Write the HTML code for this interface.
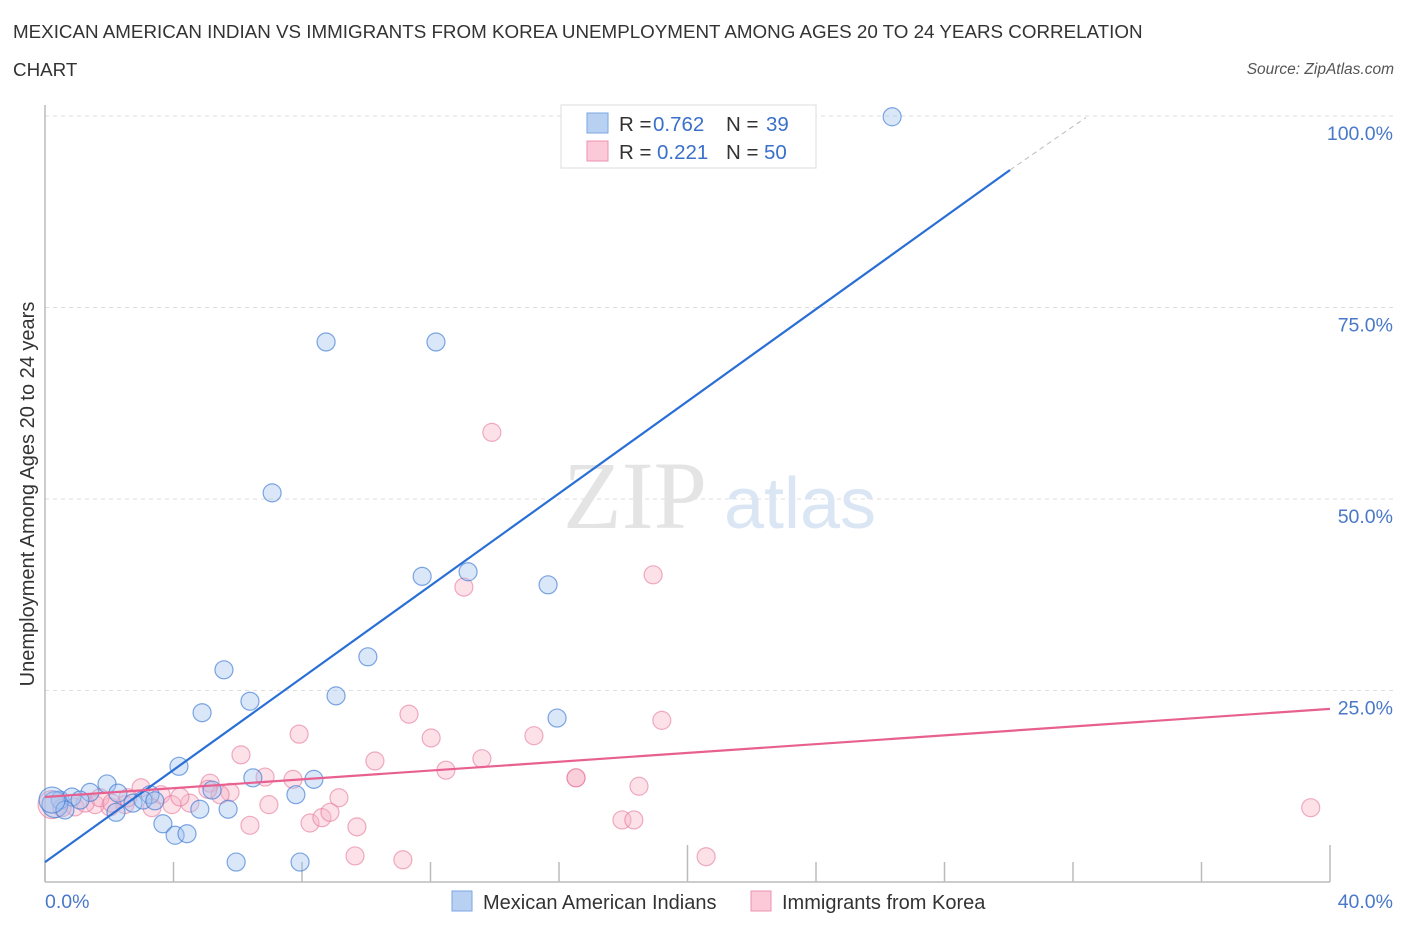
<!DOCTYPE html>
<html><head><meta charset="utf-8"><style>
body{margin:0;background:#fff;font-family:"Liberation Sans",sans-serif;}
#wrap{position:relative;width:1406px;height:930px;overflow:hidden;}
.t{position:absolute;white-space:nowrap;}
</style></head><body>
<div id="wrap">
<div class="t" style="left:13px;top:21px;font-size:18.8px;color:#333;">MEXICAN AMERICAN INDIAN VS IMMIGRANTS FROM KOREA UNEMPLOYMENT AMONG AGES 20 TO 24 YEARS CORRELATION</div>
<div class="t" style="left:13px;top:59px;font-size:18.8px;color:#333;">CHART</div>
<div class="t" style="right:12px;top:61px;font-size:15.5px;color:#555;font-style:italic;">Source: ZipAtlas.com</div>
<svg id="svg" width="1406" height="930" style="position:absolute;left:0;top:0"></svg>
</div>
<script>
const xTicks=[0,4,8,12,16,20,24,28,32,36,40];
const yTicks=[25,50,75,100];
const yTickLabels=["25.0%","50.0%","75.0%","100.0%"];
const blueX=[26.37,8.75,12.17,7.07,11.74,13.17,15.66,10.05,5.57,6.38,9.06,4.89,15.94,4.17,6.47,8.37,1.93,7.81,1.40,2.27,3.27,0.47,0.84,1.09,5.2,4.82,5.7,2.21,2.74,3.05,3.42,3.67,4.05,4.42,5.95,7.94,0.31,0.62,0.22];
const blueY=[99.9,70.5,70.5,50.8,39.9,40.5,38.8,29.4,27.7,23.6,24.3,22.1,21.4,15.1,13.6,13.4,12.8,11.4,11.7,11.6,11.4,10.7,11.1,10.7,12.0,9.5,9.5,9.1,10.3,10.7,10.6,7.6,6.1,6.3,2.6,2.6,10.1,9.4,10.7];
const pinkX=[13.91,18.93,13.04,11.33,19.2,7.91,15.22,12.02,6.1,10.27,13.6,16.53,16.53,12.48,18.49,6.85,7.72,5.14,5.76,2.99,3.61,5.45,9.15,4.51,3.95,6.97,6.38,8.25,8.62,8.87,9.71,9.65,11.14,17.96,18.33,20.58,39.4,2.02,2.49,1.56,0.93,0.22,0.53,1.25,1.71,2.08,2.58,4.2,5.07,3.33];
const pinkY=[58.7,40.1,38.5,21.9,21.1,19.3,19.1,18.8,16.6,15.8,16.1,13.6,13.6,14.6,12.5,13.7,13.4,12.9,11.7,12.3,11.4,11.4,11.0,10.3,10.1,10.1,7.4,7.7,8.4,9.1,7.2,3.4,2.9,8.1,8.1,3.3,9.7,9.8,10.1,10.1,9.8,10.1,9.7,10.3,11.0,10.3,11.0,11.1,12.1,9.7];
const blueLine=[[0,2.6],[30.04,92.95]];
const blueDash=[[30.04,92.95],[32.4,99.8]];
const pinkLine=[[0,11.1],[40,22.6]];

const NS="http://www.w3.org/2000/svg";
const svg=document.getElementById('svg');
const X0=45,X1=1330,Y0=882,Y100=116;
const sx=v=>X0+(X1-X0)*v/40;
const sy=v=>Y0-(Y0-Y100)*v/100;
function el(tag,attrs){const e=document.createElementNS(NS,tag);for(const k in attrs)e.setAttribute(k,attrs[k]);svg.appendChild(e);return e;}
function txt(s,attrs){const e=el('text',attrs);e.textContent=s;return e;}

yTicks.forEach((v,i)=>{
 const g=el('line',{x1:X0,x2:1395,y1:sy(v),y2:sy(v),stroke:'#ddd','stroke-dasharray':'4,4'});
 
 
 const t=txt(yTickLabels[i],{x:1393,y:sy(v)+24,'text-anchor':'end','font-size':19.5,fill:'#4a78c8','font-family':'Liberation Sans, sans-serif'});
 
 
});
const ax=el('line',{x1:X0,x2:X0,y1:105,y2:Y0,stroke:'#bbb','stroke-width':1.5});


const bx=el('line',{x1:X0,x2:X1,y1:Y0,y2:Y0,stroke:'#bbb','stroke-width':1.5});


xTicks.forEach((v,i)=>{
 const big=(v===20||v===40);
 const tk=el('line',{x1:sx(v),x2:sx(v),y1:big?845:862,y2:Y0,stroke:'#bbb','stroke-width':1.5});
 
 
});
const xl0=txt('0.0%',{x:45,y:908,'font-size':19.5,fill:'#4a78c8','font-family':'Liberation Sans, sans-serif'});


const xl1=txt('40.0%',{x:1393,y:908,'text-anchor':'end','font-size':19.5,fill:'#4a78c8','font-family':'Liberation Sans, sans-serif'});


const yt=txt('Unemployment Among Ages 20 to 24 years',{x:0,y:0,transform:'translate(34,494) rotate(-90)','text-anchor':'middle','font-size':20,fill:'#333','font-family':'Liberation Sans, sans-serif'});


// watermark
const w1=txt('ZIP',{x:635,y:528,'text-anchor':'middle','font-size':96,fill:'#e4e4e4','font-family':'Liberation Serif, serif'});


const w2=txt('atlas',{x:800,y:528,'text-anchor':'middle','font-size':72,fill:'#dbe6f5','font-family':'Liberation Sans, sans-serif'});



pinkX.forEach((x,i)=>{
 const c=el('circle',{cx:sx(x),cy:sy(pinkY[i]),r:(x<0.3?14:9),fill:'rgba(248,180,200,0.4)',stroke:'rgba(230,120,155,0.6)','stroke-width':1.2});
 
 
});
blueX.forEach((x,i)=>{
 const c=el('circle',{cx:sx(x),cy:sy(blueY[i]),r:(x<0.35?13:9),fill:'rgba(160,195,240,0.4)',stroke:'rgba(60,120,210,0.65)','stroke-width':1.2});
 
 
});
const bl=el('line',{x1:sx(blueLine[0][0]),y1:sy(blueLine[0][1]),x2:sx(blueLine[1][0]),y2:sy(blueLine[1][1]),stroke:'#2a6fd6','stroke-width':2.2});


const bd=el('line',{x1:sx(blueDash[0][0]),y1:sy(blueDash[0][1]),x2:sx(blueDash[1][0]),y2:sy(blueDash[1][1]),stroke:'#bbb','stroke-width':1,'stroke-dasharray':'5,4'});


const pl=el('line',{x1:sx(pinkLine[0][0]),y1:sy(pinkLine[0][1]),x2:sx(pinkLine[1][0]),y2:sy(pinkLine[1][1]),stroke:'#e8608f','stroke-width':2.2});



// top legend
const lb=el('rect',{x:561,y:105,width:255,height:63,fill:'#fff',stroke:'#ddd'});


const s1=el('rect',{x:587,y:113,width:21,height:20,fill:'#b8d1f3',stroke:'#7aa6e0'});


const s2=el('rect',{x:587,y:141,width:21,height:20,fill:'#fbc9d7',stroke:'#eb93b0'});


function rich(y,parts,name){const t=el('text',{x:619,y:y,'font-size':20.5,'font-family':'Liberation Sans, sans-serif'});
 
 
 parts.forEach(p=>{const s=document.createElementNS(NS,'tspan');s.setAttribute('fill',p[1]);if(p[2])s.setAttribute('x',p[2]);s.textContent=p[0];t.appendChild(s);});}
rich(131,[['R = ','#333'],['0.762','#3a70c8',653],['N = ','#333',726],['39','#3a70c8',766]],'stats-blue');
rich(159,[['R = ','#333'],['0.221','#3a70c8',657],['N = ','#333',726],['50','#3a70c8',764]],'stats-pink');

// bottom legend
const b1=el('rect',{x:452,y:891,width:20,height:20,fill:'#b8d1f3',stroke:'#7aa6e0'});


const bt1=txt('Mexican American Indians',{x:483,y:909,'font-size':20,fill:'#333','font-family':'Liberation Sans, sans-serif'});


const b2=el('rect',{x:751,y:891,width:20,height:20,fill:'#fbc9d7',stroke:'#eb93b0'});


const bt2=txt('Immigrants from Korea',{x:782,y:909,'font-size':20,fill:'#333','font-family':'Liberation Sans, sans-serif'});


</script>
</body></html>
